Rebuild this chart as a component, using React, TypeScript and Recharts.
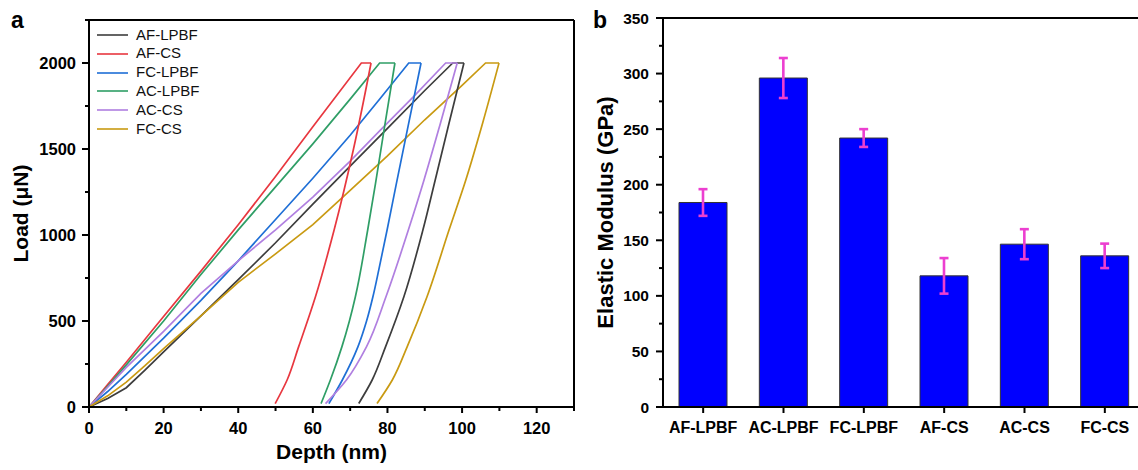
import React from 'react';
import {
  LineChart, Line, XAxis, YAxis, Legend, ReferenceLine,
  BarChart, Bar, ErrorBar,
} from 'recharts';

const FONT = '"Liberation Sans", Arial, Helvetica, sans-serif';

// (a) load-depth curves. loading part ends with the hold at 2000 uN,
// unloading part starts where the hold ends
const afLpbfLoadDepth = [0, 5, 10, 15, 20, 30, 40, 50, 60, 70, 80, 90, 97.5, 100.5];
const afLpbfLoadLoad = [0, 50, 112, 215, 320, 530, 740, 955, 1180, 1400, 1620, 1840, 2000, 2000];
const afLpbfUnDepth = [100.5, 96.5, 92.8, 89.5, 84.4, 79.5, 75.9, 72.3];
const afLpbfUnLoad = [2000, 1650, 1320, 1029, 641, 351, 157, 20];

const afCsLoadDepth = [0, 5, 10, 19, 30, 40, 50, 60, 73, 75.6];
const afCsLoadLoad = [0, 130, 260, 500, 790, 1060, 1340, 1630, 2000, 2000];
const afCsUnDepth = [75.6, 70.9, 65.7, 60.7, 56.2, 53.1, 49.9];
const afCsUnLoad = [2000, 1500, 1029, 641, 351, 157, 20];

const fcLpbfLoadDepth = [0, 5, 10, 20, 30, 40, 50, 60, 70, 78.1, 85.7, 89];
const fcLpbfLoadLoad = [0, 90, 190, 400, 620, 850, 1090, 1330, 1580, 1795, 2000, 2000];
const fcLpbfUnDepth = [89, 85.6, 82.4, 79.9, 77.7, 76.1, 74.4, 72.1, 67.9, 64.3];
const fcLpbfUnLoad = [2000, 1640, 1300, 1029, 800, 641, 500, 351, 157, 20];

const acLpbfLoadDepth = [0, 5, 10, 20, 30, 40, 50, 60, 70, 77.9, 82];
const acLpbfLoadLoad = [0, 120, 245, 500, 770, 1030, 1280, 1530, 1790, 2000, 2000];
const acLpbfUnDepth = [82, 79, 76.8, 74.7, 71.4, 69.8, 67.8, 64.7, 62.2];
const acLpbfUnLoad = [2000, 1600, 1300, 1029, 641, 500, 351, 157, 20];

const acCsLoadDepth = [0, 5, 10, 20, 30, 40, 50, 60, 70, 78.1, 87, 95.6, 98.7];
const acCsLoadLoad = [0, 115, 230, 440, 660, 850, 1030, 1220, 1430, 1610, 1805, 2000, 2000];
const acCsUnDepth = [98.7, 94.2, 89.8, 85.6, 79.6, 74.4, 69, 63.4];
const acCsUnLoad = [2000, 1650, 1320, 1029, 641, 351, 157, 20];

const fcCsLoadDepth = [0, 5, 10, 15, 20, 30, 40, 50, 60, 70, 80, 90, 100, 106.3, 109.9];
const fcCsLoadLoad = [0, 65, 145, 240, 340, 530, 725, 890, 1060, 1260, 1460, 1670, 1870, 2000, 2000];
const fcCsUnDepth = [109.9, 105.5, 101, 96.5, 90.6, 85.3, 81.3, 77.2];
const fcCsUnLoad = [2000, 1650, 1320, 1029, 641, 351, 157, 20];

const sampleNames = ['AF-LPBF', 'AF-CS', 'FC-LPBF', 'AC-LPBF', 'AC-CS', 'FC-CS'];
const sampleColors = ['#3d3d3d', '#e8373f', '#1f6fd6', '#2f9e66', '#b07fe0', '#c99a12'];

const depthTicks = [0, 10, 20, 30, 40, 50, 60, 70, 80, 90, 100, 110, 120, 130];
const loadTicks = [0, 250, 500, 750, 1000, 1250, 1500, 1750, 2000, 2250];

// (b) elastic modulus
const modulusSamples = ['AF-LPBF', 'AC-LPBF', 'FC-LPBF', 'AF-CS', 'AC-CS', 'FC-CS'];
const modulusValues = [184, 296, 242, 118, 146.5, 136];
const modulusErrors = [12, 18, 8, 16, 13.5, 11];
const modulusTicks = [0, 25, 50, 75, 100, 125, 150, 175, 200, 225, 250, 275, 300, 325, 350];

const toPoints = (depth: number[], load: number[]) =>
  depth.map((d, i) => ({ depth: d, load: load[i] }));

const loadingData = [
  toPoints(afLpbfLoadDepth, afLpbfLoadLoad),
  toPoints(afCsLoadDepth, afCsLoadLoad),
  toPoints(fcLpbfLoadDepth, fcLpbfLoadLoad),
  toPoints(acLpbfLoadDepth, acLpbfLoadLoad),
  toPoints(acCsLoadDepth, acCsLoadLoad),
  toPoints(fcCsLoadDepth, fcCsLoadLoad),
];
const unloadingData = [
  toPoints(afLpbfUnDepth, afLpbfUnLoad),
  toPoints(afCsUnDepth, afCsUnLoad),
  toPoints(fcLpbfUnDepth, fcLpbfUnLoad),
  toPoints(acLpbfUnDepth, acLpbfUnLoad),
  toPoints(acCsUnDepth, acCsUnLoad),
  toPoints(fcCsUnDepth, fcCsUnLoad),
];

const modulusData = modulusSamples.map((s, i) => ({
  sample: s,
  modulus: modulusValues[i],
  err: modulusErrors[i],
}));

const DepthTick = ({ x, y, payload }: any) => {
  const major = payload.value % 20 === 0;
  return (
    <g>
      <line x1={x} x2={x} y1={y} y2={y + (major ? 6 : 4)} stroke="#000" strokeWidth={2} />
      {major && (
        <text x={x} y={y + 26.5} textAnchor="middle" fontSize={16.5} fontWeight="bold"
          fontFamily={FONT} fill="#000">{payload.value}</text>
      )}
    </g>
  );
};

const LoadTick = ({ x, y, payload }: any) => {
  const major = payload.value % 500 === 0;
  return (
    <g>
      <line x1={x - (major ? 7 : 4)} x2={x} y1={y} y2={y} stroke="#000" strokeWidth={2} />
      {major && (
        <text x={x - 13} y={y} dy="0.36em" textAnchor="end" fontSize={16.5} fontWeight="bold"
          fontFamily={FONT} fill="#000">{payload.value}</text>
      )}
    </g>
  );
};

const ModulusTick = ({ x, y, payload }: any) => {
  const major = payload.value % 50 === 0;
  return (
    <g>
      <line x1={x - (major ? 7 : 4)} x2={x} y1={y} y2={y} stroke="#000" strokeWidth={2} />
      {major && (
        <text x={x - 14} y={y} dy="0.36em" textAnchor="end" fontSize={15.5} fontWeight="bold"
          fontFamily={FONT} fill="#000">{payload.value}</text>
      )}
    </g>
  );
};

const verticalTitle = (text: string, dx: number, size: number) => (props: any) => {
  const { x, y, height } = props.viewBox;
  const cx = x + dx;
  const cy = y + height / 2;
  return (
    <text x={cx} y={cy} transform={`rotate(-90 ${cx} ${cy})`} textAnchor="middle"
      dominantBaseline="central" fontSize={size} fontWeight="bold" fontFamily={FONT} fill="#000">
      {text}
    </text>
  );
};

const depthTitle = (props: any) => {
  const { x, y, width } = props.viewBox;
  return (
    <text x={x + width / 2} y={y + 52} textAnchor="middle" fontSize={21} fontWeight="bold"
      fontFamily={FONT} fill="#000">Depth (nm)</text>
  );
};

// only the loading lines carry the sample names
const renderLegend = ({ payload }: any) => {
  const items = (payload || [])
    .filter((e: any) => sampleNames.includes(e.value))
    .sort((a: any, b: any) => sampleNames.indexOf(a.value) - sampleNames.indexOf(b.value));
  return (
    <div style={{ fontFamily: FONT }}>
      {items.map((e: any) => (
        <div key={e.value} style={{ display: 'flex', alignItems: 'center', height: 18.8 }}>
          <svg width={31} height={4}>
            <line x1={0} x2={31} y1={2} y2={2} stroke={e.color} strokeWidth={1.6} />
          </svg>
          <span style={{ marginLeft: 8, fontSize: 15, lineHeight: '18.8px', color: '#111' }}>{e.value}</span>
        </div>
      ))}
    </div>
  );
};

export default function App() {
  const axisLine = { stroke: '#000', strokeWidth: 2 };
  return (
    <div style={{ position: 'absolute', left: 0, top: 0, width: 1138, height: 470, overflow: 'hidden', background: '#fff' }}>
      <div style={{ position: 'absolute', left: 0, top: 0 }}>
        <LineChart width={580} height={470} margin={{ top: 20, right: 6, bottom: 0, left: 0 }}>
          <XAxis type="number" dataKey="depth" domain={[0, 130]} ticks={depthTicks} interval={0}
            tick={<DepthTick />} tickLine={false} tickSize={0} tickMargin={0} axisLine={axisLine}
            height={63} label={depthTitle} allowDataOverflow />
          <YAxis type="number" dataKey="load" domain={[0, 2250]} ticks={loadTicks} interval={0}
            tick={<LoadTick />} tickLine={false} tickSize={0} tickMargin={0} axisLine={axisLine}
            width={89} label={verticalTitle('Load (μN)', 20, 21)} allowDataOverflow />
          <ReferenceLine y={2250} stroke="#000" strokeWidth={2} ifOverflow="visible" />
          <ReferenceLine x={130} stroke="#000" strokeWidth={2} ifOverflow="visible" />
          {loadingData.map((pts, i) => (
            <Line key={sampleNames[i]} data={pts} dataKey="load" name={sampleNames[i]}
              type="linear" stroke={sampleColors[i]} strokeWidth={1.7} dot={false}
              activeDot={false} isAnimationActive={false} />
          ))}
          {unloadingData.map((pts, i) => (
            <Line key={sampleNames[i] + '-unload'} data={pts} dataKey="load"
              name={sampleNames[i] + ' unloading'} legendType="none"
              type="monotoneY" stroke={sampleColors[i]} strokeWidth={1.7} dot={false}
              activeDot={false} isAnimationActive={false} />
          ))}
          <Legend layout="vertical" align="center" verticalAlign="middle"
            wrapperStyle={{ left: 97, top: 25.6, width: 'auto', height: 'auto' }}
            content={renderLegend} />
        </LineChart>
      </div>
      <div style={{ position: 'absolute', left: 580, top: 0 }}>
        <BarChart width={580} height={470} data={modulusData}
          margin={{ top: 18, right: 15, bottom: 0, left: 0 }}>
          <XAxis dataKey="sample" interval={0} axisLine={axisLine}
            tickLine={{ stroke: '#000', strokeWidth: 2 }} tickSize={6} tickMargin={8.5}
            tick={{ fill: '#000', fontSize: 16, fontWeight: 'bold', fontFamily: FONT }} height={63} />
          <YAxis type="number" domain={[0, 350]} ticks={modulusTicks} interval={0}
            tick={<ModulusTick />} tickLine={false} tickSize={0} tickMargin={0} axisLine={axisLine}
            width={83} label={verticalTitle('Elastic Modulus (GPa)', 25, 22)} />
          <ReferenceLine y={350} stroke="#000" strokeWidth={2} ifOverflow="visible" />
          <Bar dataKey="modulus" fill="#0000ff" stroke="#333" strokeWidth={1} barSize={48}
            isAnimationActive={false}>
            <ErrorBar dataKey="err" width={4.5} stroke="#ec3fd0" strokeWidth={2.6} direction="y"
              isAnimationActive={false} />
          </Bar>
        </BarChart>
      </div>
      <svg width={1138} height={40} style={{ position: 'absolute', left: 0, top: 0, pointerEvents: 'none' }}>
        <text x={11} y={28} fontSize={23} fontWeight="bold" fontFamily={FONT} fill="#000">a</text>
        <text x={593} y={28} fontSize={23} fontWeight="bold" fontFamily={FONT} fill="#000">b</text>
      </svg>
    </div>
  );
}
